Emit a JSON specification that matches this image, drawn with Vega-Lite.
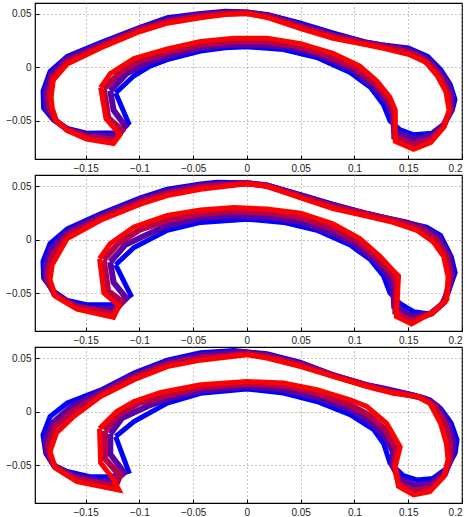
{
"$schema":"https://vega.github.io/schema/vega-lite/v6.json",
"autosize":{"type":"pad"},
"padding":{"left":5,"top":2,"right":5,"bottom":2},
"background":"white",
"bounds":"flush",
"spacing":16,
"datasets":{
"d":[
{"p":1,"c":"b","i":0,"x":-0.122,"y":-0.024},{"p":1,"c":"b","i":1,"x":-0.105,"y":-0.008},{"p":1,"c":"b","i":2,"x":-0.09,"y":0.001},{"p":1,"c":"b","i":3,"x":-0.074,"y":0.007},{"p":1,"c":"b","i":4,"x":-0.043,"y":0.015},{"p":1,"c":"b","i":5,"x":-0.02,"y":0.018},{"p":1,"c":"b","i":6,"x":0,"y":0.019},{"p":1,"c":"b","i":7,"x":0.034,"y":0.0165},{"p":1,"c":"b","i":8,"x":0.065,"y":0.009},{"p":1,"c":"b","i":9,"x":0.096,"y":-0.005},{"p":1,"c":"b","i":10,"x":0.115,"y":-0.019},{"p":1,"c":"b","i":11,"x":0.127,"y":-0.035},{"p":1,"c":"b","i":12,"x":0.133,"y":-0.05},{"p":1,"c":"b","i":13,"x":0.142,"y":-0.058},{"p":1,"c":"b","i":14,"x":0.155,"y":-0.063},{"p":1,"c":"b","i":15,"x":0.172,"y":-0.0615},{"p":1,"c":"b","i":16,"x":0.183,"y":-0.053},{"p":1,"c":"b","i":17,"x":0.191,"y":-0.04},{"p":1,"c":"b","i":18,"x":0.1935,"y":-0.03},{"p":1,"c":"b","i":19,"x":0.189,"y":-0.016},{"p":1,"c":"b","i":20,"x":0.18,"y":-0.002},{"p":1,"c":"b","i":21,"x":0.168,"y":0.01},{"p":1,"c":"b","i":22,"x":0.15,"y":0.018},{"p":1,"c":"b","i":23,"x":0.125,"y":0.021},{"p":1,"c":"b","i":24,"x":0.11,"y":0.0235},{"p":1,"c":"b","i":25,"x":0.08,"y":0.032},{"p":1,"c":"b","i":26,"x":0.05,"y":0.041},{"p":1,"c":"b","i":27,"x":0.02,"y":0.049},{"p":1,"c":"b","i":28,"x":0,"y":0.0515},{"p":1,"c":"b","i":29,"x":-0.02,"y":0.052},{"p":1,"c":"b","i":30,"x":-0.043,"y":0.05},{"p":1,"c":"b","i":31,"x":-0.074,"y":0.046},{"p":1,"c":"b","i":32,"x":-0.1,"y":0.037},{"p":1,"c":"b","i":33,"x":-0.136,"y":0.023},{"p":1,"c":"b","i":34,"x":-0.167,"y":0.01},{"p":1,"c":"b","i":35,"x":-0.183,"y":-0.004},{"p":1,"c":"b","i":36,"x":-0.1895,"y":-0.022},{"p":1,"c":"b","i":37,"x":-0.189,"y":-0.038},{"p":1,"c":"b","i":38,"x":-0.18,"y":-0.049},{"p":1,"c":"b","i":39,"x":-0.167,"y":-0.057},{"p":1,"c":"b","i":40,"x":-0.149,"y":-0.0615},{"p":1,"c":"b","i":41,"x":-0.12,"y":-0.061},{"p":1,"c":"b","i":42,"x":-0.11,"y":-0.052},{"p":1,"c":"b","i":43,"x":-0.122,"y":-0.024},
{"p":1,"c":"m1","i":0,"x":-0.127,"y":-0.022},{"p":1,"c":"m1","i":1,"x":-0.112,"y":-0.006},{"p":1,"c":"m1","i":2,"x":-0.09,"y":0.005},{"p":1,"c":"m1","i":3,"x":-0.074,"y":0.01},{"p":1,"c":"m1","i":4,"x":-0.043,"y":0.018},{"p":1,"c":"m1","i":5,"x":-0.015,"y":0.021},{"p":1,"c":"m1","i":6,"x":0.01,"y":0.021},{"p":1,"c":"m1","i":7,"x":0.04,"y":0.019},{"p":1,"c":"m1","i":8,"x":0.065,"y":0.012},{"p":1,"c":"m1","i":9,"x":0.098,"y":-0.002},{"p":1,"c":"m1","i":10,"x":0.117,"y":-0.017},{"p":1,"c":"m1","i":11,"x":0.13,"y":-0.032},{"p":1,"c":"m1","i":12,"x":0.136,"y":-0.047},{"p":1,"c":"m1","i":13,"x":0.137,"y":-0.06},{"p":1,"c":"m1","i":14,"x":0.155,"y":-0.067},{"p":1,"c":"m1","i":15,"x":0.172,"y":-0.064},{"p":1,"c":"m1","i":16,"x":0.183,"y":-0.054},{"p":1,"c":"m1","i":17,"x":0.19,"y":-0.04},{"p":1,"c":"m1","i":18,"x":0.191,"y":-0.028},{"p":1,"c":"m1","i":19,"x":0.186,"y":-0.014},{"p":1,"c":"m1","i":20,"x":0.178,"y":-0.003},{"p":1,"c":"m1","i":21,"x":0.167,"y":0.008},{"p":1,"c":"m1","i":22,"x":0.15,"y":0.016},{"p":1,"c":"m1","i":23,"x":0.127,"y":0.02},{"p":1,"c":"m1","i":24,"x":0.11,"y":0.023},{"p":1,"c":"m1","i":25,"x":0.08,"y":0.03},{"p":1,"c":"m1","i":26,"x":0.05,"y":0.039},{"p":1,"c":"m1","i":27,"x":0.02,"y":0.048},{"p":1,"c":"m1","i":28,"x":0,"y":0.051},{"p":1,"c":"m1","i":29,"x":-0.02,"y":0.051},{"p":1,"c":"m1","i":30,"x":-0.043,"y":0.049},{"p":1,"c":"m1","i":31,"x":-0.074,"y":0.044},{"p":1,"c":"m1","i":32,"x":-0.1,"y":0.036},{"p":1,"c":"m1","i":33,"x":-0.136,"y":0.021},{"p":1,"c":"m1","i":34,"x":-0.167,"y":0.008},{"p":1,"c":"m1","i":35,"x":-0.182,"y":-0.007},{"p":1,"c":"m1","i":36,"x":-0.187,"y":-0.024},{"p":1,"c":"m1","i":37,"x":-0.186,"y":-0.038},{"p":1,"c":"m1","i":38,"x":-0.179,"y":-0.049},{"p":1,"c":"m1","i":39,"x":-0.167,"y":-0.058},{"p":1,"c":"m1","i":40,"x":-0.149,"y":-0.063},{"p":1,"c":"m1","i":41,"x":-0.122,"y":-0.064},{"p":1,"c":"m1","i":42,"x":-0.113,"y":-0.055},{"p":1,"c":"m1","i":43,"x":-0.124,"y":-0.04},{"p":1,"c":"m1","i":44,"x":-0.127,"y":-0.022},
{"p":1,"c":"m2","i":0,"x":-0.133,"y":-0.02},{"p":1,"c":"m2","i":1,"x":-0.118,"y":-0.005},{"p":1,"c":"m2","i":2,"x":-0.1,"y":0.006},{"p":1,"c":"m2","i":3,"x":-0.074,"y":0.014},{"p":1,"c":"m2","i":4,"x":-0.043,"y":0.021},{"p":1,"c":"m2","i":5,"x":-0.013,"y":0.024},{"p":1,"c":"m2","i":6,"x":0.015,"y":0.024},{"p":1,"c":"m2","i":7,"x":0.045,"y":0.02},{"p":1,"c":"m2","i":8,"x":0.072,"y":0.012},{"p":1,"c":"m2","i":9,"x":0.101,"y":-0.001},{"p":1,"c":"m2","i":10,"x":0.119,"y":-0.015},{"p":1,"c":"m2","i":11,"x":0.132,"y":-0.03},{"p":1,"c":"m2","i":12,"x":0.137,"y":-0.043},{"p":1,"c":"m2","i":13,"x":0.137,"y":-0.065},{"p":1,"c":"m2","i":14,"x":0.155,"y":-0.072},{"p":1,"c":"m2","i":15,"x":0.171,"y":-0.067},{"p":1,"c":"m2","i":16,"x":0.183,"y":-0.055},{"p":1,"c":"m2","i":17,"x":0.189,"y":-0.04},{"p":1,"c":"m2","i":18,"x":0.188,"y":-0.026},{"p":1,"c":"m2","i":19,"x":0.181,"y":-0.011},{"p":1,"c":"m2","i":20,"x":0.172,"y":0.001},{"p":1,"c":"m2","i":21,"x":0.158,"y":0.011},{"p":1,"c":"m2","i":22,"x":0.14,"y":0.017},{"p":1,"c":"m2","i":23,"x":0.115,"y":0.021},{"p":1,"c":"m2","i":24,"x":0.08,"y":0.029},{"p":1,"c":"m2","i":25,"x":0.05,"y":0.0375},{"p":1,"c":"m2","i":26,"x":0.02,"y":0.047},{"p":1,"c":"m2","i":27,"x":0,"y":0.0505},{"p":1,"c":"m2","i":28,"x":-0.02,"y":0.05},{"p":1,"c":"m2","i":29,"x":-0.043,"y":0.0475},{"p":1,"c":"m2","i":30,"x":-0.074,"y":0.0425},{"p":1,"c":"m2","i":31,"x":-0.1,"y":0.0345},{"p":1,"c":"m2","i":32,"x":-0.136,"y":0.0195},{"p":1,"c":"m2","i":33,"x":-0.167,"y":0.0055},{"p":1,"c":"m2","i":34,"x":-0.181,"y":-0.0095},{"p":1,"c":"m2","i":35,"x":-0.1845,"y":-0.026},{"p":1,"c":"m2","i":36,"x":-0.1835,"y":-0.038},{"p":1,"c":"m2","i":37,"x":-0.178,"y":-0.0495},{"p":1,"c":"m2","i":38,"x":-0.167,"y":-0.058},{"p":1,"c":"m2","i":39,"x":-0.149,"y":-0.065},{"p":1,"c":"m2","i":40,"x":-0.123,"y":-0.0675},{"p":1,"c":"m2","i":41,"x":-0.116,"y":-0.059},{"p":1,"c":"m2","i":42,"x":-0.129,"y":-0.047},{"p":1,"c":"m2","i":43,"x":-0.133,"y":-0.02},
{"p":1,"c":"r","i":0,"x":-0.136,"y":-0.019},{"p":1,"c":"r","i":1,"x":-0.127,"y":-0.006},{"p":1,"c":"r","i":2,"x":-0.105,"y":0.008},{"p":1,"c":"r","i":3,"x":-0.074,"y":0.017},{"p":1,"c":"r","i":4,"x":-0.043,"y":0.024},{"p":1,"c":"r","i":5,"x":-0.012,"y":0.027},{"p":1,"c":"r","i":6,"x":0.019,"y":0.027},{"p":1,"c":"r","i":7,"x":0.05,"y":0.022},{"p":1,"c":"r","i":8,"x":0.08,"y":0.013},{"p":1,"c":"r","i":9,"x":0.105,"y":0.001},{"p":1,"c":"r","i":10,"x":0.121,"y":-0.013},{"p":1,"c":"r","i":11,"x":0.133,"y":-0.028},{"p":1,"c":"r","i":12,"x":0.138,"y":-0.04},{"p":1,"c":"r","i":13,"x":0.138,"y":-0.069},{"p":1,"c":"r","i":14,"x":0.155,"y":-0.0765},{"p":1,"c":"r","i":15,"x":0.171,"y":-0.07},{"p":1,"c":"r","i":16,"x":0.183,"y":-0.056},{"p":1,"c":"r","i":17,"x":0.188,"y":-0.04},{"p":1,"c":"r","i":18,"x":0.185,"y":-0.023},{"p":1,"c":"r","i":19,"x":0.177,"y":-0.008},{"p":1,"c":"r","i":20,"x":0.166,"y":0.005},{"p":1,"c":"r","i":21,"x":0.15,"y":0.012},{"p":1,"c":"r","i":22,"x":0.13,"y":0.017},{"p":1,"c":"r","i":23,"x":0.11,"y":0.021},{"p":1,"c":"r","i":24,"x":0.08,"y":0.027},{"p":1,"c":"r","i":25,"x":0.05,"y":0.036},{"p":1,"c":"r","i":26,"x":0.02,"y":0.046},{"p":1,"c":"r","i":27,"x":0,"y":0.05},{"p":1,"c":"r","i":28,"x":-0.02,"y":0.049},{"p":1,"c":"r","i":29,"x":-0.043,"y":0.046},{"p":1,"c":"r","i":30,"x":-0.074,"y":0.041},{"p":1,"c":"r","i":31,"x":-0.1,"y":0.033},{"p":1,"c":"r","i":32,"x":-0.136,"y":0.018},{"p":1,"c":"r","i":33,"x":-0.167,"y":0.003},{"p":1,"c":"r","i":34,"x":-0.18,"y":-0.012},{"p":1,"c":"r","i":35,"x":-0.182,"y":-0.028},{"p":1,"c":"r","i":36,"x":-0.181,"y":-0.038},{"p":1,"c":"r","i":37,"x":-0.177,"y":-0.05},{"p":1,"c":"r","i":38,"x":-0.167,"y":-0.059},{"p":1,"c":"r","i":39,"x":-0.149,"y":-0.067},{"p":1,"c":"r","i":40,"x":-0.124,"y":-0.071},{"p":1,"c":"r","i":41,"x":-0.118,"y":-0.063},{"p":1,"c":"r","i":42,"x":-0.131,"y":-0.048},{"p":1,"c":"r","i":43,"x":-0.136,"y":-0.019},
{"p":2,"c":"b","i":0,"x":-0.122,"y":-0.0236},{"p":2,"c":"b","i":1,"x":-0.105,"y":-0.0074},{"p":2,"c":"b","i":2,"x":-0.074,"y":0.0086},{"p":2,"c":"b","i":3,"x":-0.043,"y":0.016},{"p":2,"c":"b","i":4,"x":0,"y":0.019},{"p":2,"c":"b","i":5,"x":0.034,"y":0.016},{"p":2,"c":"b","i":6,"x":0.065,"y":0.0086},{"p":2,"c":"b","i":7,"x":0.096,"y":-0.005},{"p":2,"c":"b","i":8,"x":0.115,"y":-0.019},{"p":2,"c":"b","i":9,"x":0.127,"y":-0.034},{"p":2,"c":"b","i":10,"x":0.133,"y":-0.05},{"p":2,"c":"b","i":11,"x":0.1425,"y":-0.06},{"p":2,"c":"b","i":12,"x":0.155,"y":-0.0675},{"p":2,"c":"b","i":13,"x":0.17,"y":-0.0696},{"p":2,"c":"b","i":14,"x":0.18,"y":-0.062},{"p":2,"c":"b","i":15,"x":0.187,"y":-0.05},{"p":2,"c":"b","i":16,"x":0.1936,"y":-0.031},{"p":2,"c":"b","i":17,"x":0.19,"y":-0.016},{"p":2,"c":"b","i":18,"x":0.18,"y":0.004},{"p":2,"c":"b","i":19,"x":0.167,"y":0.0117},{"p":2,"c":"b","i":20,"x":0.152,"y":0.015},{"p":2,"c":"b","i":21,"x":0.127,"y":0.0209},{"p":2,"c":"b","i":22,"x":0.1115,"y":0.0245},{"p":2,"c":"b","i":23,"x":0.08,"y":0.033},{"p":2,"c":"b","i":24,"x":0.05,"y":0.042},{"p":2,"c":"b","i":25,"x":0.0186,"y":0.051},{"p":2,"c":"b","i":26,"x":0,"y":0.053},{"p":2,"c":"b","i":27,"x":-0.028,"y":0.0536},{"p":2,"c":"b","i":28,"x":-0.043,"y":0.052},{"p":2,"c":"b","i":29,"x":-0.074,"y":0.047},{"p":2,"c":"b","i":30,"x":-0.099,"y":0.039},{"p":2,"c":"b","i":31,"x":-0.136,"y":0.024},{"p":2,"c":"b","i":32,"x":-0.167,"y":0.01},{"p":2,"c":"b","i":33,"x":-0.183,"y":-0.0037},{"p":2,"c":"b","i":34,"x":-0.1896,"y":-0.0205},{"p":2,"c":"b","i":35,"x":-0.189,"y":-0.036},{"p":2,"c":"b","i":36,"x":-0.18,"y":-0.048},{"p":2,"c":"b","i":37,"x":-0.167,"y":-0.057},{"p":2,"c":"b","i":38,"x":-0.149,"y":-0.061},{"p":2,"c":"b","i":39,"x":-0.122,"y":-0.061},{"p":2,"c":"b","i":40,"x":-0.108,"y":-0.052},{"p":2,"c":"b","i":41,"x":-0.122,"y":-0.0236},
{"p":2,"c":"m1","i":0,"x":-0.127,"y":-0.021},{"p":2,"c":"m1","i":1,"x":-0.113,"y":-0.005},{"p":2,"c":"m1","i":2,"x":-0.09,"y":0.006},{"p":2,"c":"m1","i":3,"x":-0.074,"y":0.0132},{"p":2,"c":"m1","i":4,"x":-0.043,"y":0.02},{"p":2,"c":"m1","i":5,"x":-0.012,"y":0.0225},{"p":2,"c":"m1","i":6,"x":0.0186,"y":0.021},{"p":2,"c":"m1","i":7,"x":0.05,"y":0.0165},{"p":2,"c":"m1","i":8,"x":0.08,"y":0.006},{"p":2,"c":"m1","i":9,"x":0.1,"y":-0.004},{"p":2,"c":"m1","i":10,"x":0.118,"y":-0.018},{"p":2,"c":"m1","i":11,"x":0.13,"y":-0.032},{"p":2,"c":"m1","i":12,"x":0.136,"y":-0.044},{"p":2,"c":"m1","i":13,"x":0.137,"y":-0.063},{"p":2,"c":"m1","i":14,"x":0.154,"y":-0.072},{"p":2,"c":"m1","i":15,"x":0.171,"y":-0.069},{"p":2,"c":"m1","i":16,"x":0.182,"y":-0.06},{"p":2,"c":"m1","i":17,"x":0.1875,"y":-0.047},{"p":2,"c":"m1","i":18,"x":0.191,"y":-0.032},{"p":2,"c":"m1","i":19,"x":0.188,"y":-0.016},{"p":2,"c":"m1","i":20,"x":0.178,"y":0.002},{"p":2,"c":"m1","i":21,"x":0.164,"y":0.011},{"p":2,"c":"m1","i":22,"x":0.148,"y":0.016},{"p":2,"c":"m1","i":23,"x":0.127,"y":0.0205},{"p":2,"c":"m1","i":24,"x":0.1115,"y":0.024},{"p":2,"c":"m1","i":25,"x":0.08,"y":0.032},{"p":2,"c":"m1","i":26,"x":0.05,"y":0.041},{"p":2,"c":"m1","i":27,"x":0.0186,"y":0.0505},{"p":2,"c":"m1","i":28,"x":0,"y":0.0527},{"p":2,"c":"m1","i":29,"x":-0.028,"y":0.052},{"p":2,"c":"m1","i":30,"x":-0.043,"y":0.0505},{"p":2,"c":"m1","i":31,"x":-0.074,"y":0.045},{"p":2,"c":"m1","i":32,"x":-0.099,"y":0.037},{"p":2,"c":"m1","i":33,"x":-0.136,"y":0.022},{"p":2,"c":"m1","i":34,"x":-0.167,"y":0.007},{"p":2,"c":"m1","i":35,"x":-0.182,"y":-0.009},{"p":2,"c":"m1","i":36,"x":-0.187,"y":-0.025},{"p":2,"c":"m1","i":37,"x":-0.187,"y":-0.037},{"p":2,"c":"m1","i":38,"x":-0.179,"y":-0.05},{"p":2,"c":"m1","i":39,"x":-0.164,"y":-0.06},{"p":2,"c":"m1","i":40,"x":-0.149,"y":-0.064},{"p":2,"c":"m1","i":41,"x":-0.122,"y":-0.065},{"p":2,"c":"m1","i":42,"x":-0.112,"y":-0.055},{"p":2,"c":"m1","i":43,"x":-0.124,"y":-0.04},{"p":2,"c":"m1","i":44,"x":-0.127,"y":-0.021},
{"p":2,"c":"m2","i":0,"x":-0.133,"y":-0.019},{"p":2,"c":"m2","i":1,"x":-0.12,"y":-0.004},{"p":2,"c":"m2","i":2,"x":-0.1,"y":0.009},{"p":2,"c":"m2","i":3,"x":-0.074,"y":0.018},{"p":2,"c":"m2","i":4,"x":-0.043,"y":0.024},{"p":2,"c":"m2","i":5,"x":-0.012,"y":0.0265},{"p":2,"c":"m2","i":6,"x":0.0186,"y":0.025},{"p":2,"c":"m2","i":7,"x":0.05,"y":0.0205},{"p":2,"c":"m2","i":8,"x":0.08,"y":0.0105},{"p":2,"c":"m2","i":9,"x":0.103,"y":-0.002},{"p":2,"c":"m2","i":10,"x":0.121,"y":-0.017},{"p":2,"c":"m2","i":11,"x":0.133,"y":-0.03},{"p":2,"c":"m2","i":12,"x":0.139,"y":-0.039},{"p":2,"c":"m2","i":13,"x":0.138,"y":-0.068},{"p":2,"c":"m2","i":14,"x":0.153,"y":-0.076},{"p":2,"c":"m2","i":15,"x":0.172,"y":-0.069},{"p":2,"c":"m2","i":16,"x":0.184,"y":-0.058},{"p":2,"c":"m2","i":17,"x":0.187,"y":-0.044},{"p":2,"c":"m2","i":18,"x":0.189,"y":-0.033},{"p":2,"c":"m2","i":19,"x":0.186,"y":-0.016},{"p":2,"c":"m2","i":20,"x":0.176,"y":0},{"p":2,"c":"m2","i":21,"x":0.161,"y":0.01},{"p":2,"c":"m2","i":22,"x":0.14,"y":0.017},{"p":2,"c":"m2","i":23,"x":0.115,"y":0.023},{"p":2,"c":"m2","i":24,"x":0.08,"y":0.031},{"p":2,"c":"m2","i":25,"x":0.05,"y":0.04},{"p":2,"c":"m2","i":26,"x":0.0186,"y":0.05},{"p":2,"c":"m2","i":27,"x":0,"y":0.0525},{"p":2,"c":"m2","i":28,"x":-0.043,"y":0.049},{"p":2,"c":"m2","i":29,"x":-0.074,"y":0.043},{"p":2,"c":"m2","i":30,"x":-0.099,"y":0.035},{"p":2,"c":"m2","i":31,"x":-0.136,"y":0.02},{"p":2,"c":"m2","i":32,"x":-0.167,"y":0.004},{"p":2,"c":"m2","i":33,"x":-0.181,"y":-0.015},{"p":2,"c":"m2","i":34,"x":-0.185,"y":-0.03},{"p":2,"c":"m2","i":35,"x":-0.185,"y":-0.038},{"p":2,"c":"m2","i":36,"x":-0.179,"y":-0.0515},{"p":2,"c":"m2","i":37,"x":-0.16,"y":-0.0625},{"p":2,"c":"m2","i":38,"x":-0.124,"y":-0.069},{"p":2,"c":"m2","i":39,"x":-0.116,"y":-0.058},{"p":2,"c":"m2","i":40,"x":-0.129,"y":-0.048},{"p":2,"c":"m2","i":41,"x":-0.133,"y":-0.019},
{"p":2,"c":"r","i":0,"x":-0.137,"y":-0.018},{"p":2,"c":"r","i":1,"x":-0.127,"y":-0.0037},{"p":2,"c":"r","i":2,"x":-0.105,"y":0.0117},{"p":2,"c":"r","i":3,"x":-0.074,"y":0.0224},{"p":2,"c":"r","i":4,"x":-0.043,"y":0.0276},{"p":2,"c":"r","i":5,"x":-0.012,"y":0.03},{"p":2,"c":"r","i":6,"x":0.0186,"y":0.0285},{"p":2,"c":"r","i":7,"x":0.05,"y":0.0245},{"p":2,"c":"r","i":8,"x":0.08,"y":0.0147},{"p":2,"c":"r","i":9,"x":0.105,"y":0.001},{"p":2,"c":"r","i":10,"x":0.124,"y":-0.016},{"p":2,"c":"r","i":11,"x":0.135,"y":-0.028},{"p":2,"c":"r","i":12,"x":0.141,"y":-0.034},{"p":2,"c":"r","i":13,"x":0.139,"y":-0.072},{"p":2,"c":"r","i":14,"x":0.153,"y":-0.079},{"p":2,"c":"r","i":15,"x":0.173,"y":-0.068},{"p":2,"c":"r","i":16,"x":0.186,"y":-0.056},{"p":2,"c":"r","i":17,"x":0.187,"y":-0.035},{"p":2,"c":"r","i":18,"x":0.183,"y":-0.016},{"p":2,"c":"r","i":19,"x":0.173,"y":-0.002},{"p":2,"c":"r","i":20,"x":0.158,"y":0.0086},{"p":2,"c":"r","i":21,"x":0.136,"y":0.016},{"p":2,"c":"r","i":22,"x":0.111,"y":0.022},{"p":2,"c":"r","i":23,"x":0.08,"y":0.029},{"p":2,"c":"r","i":24,"x":0.05,"y":0.039},{"p":2,"c":"r","i":25,"x":0.0186,"y":0.05},{"p":2,"c":"r","i":26,"x":0,"y":0.052},{"p":2,"c":"r","i":27,"x":-0.043,"y":0.047},{"p":2,"c":"r","i":28,"x":-0.074,"y":0.041},{"p":2,"c":"r","i":29,"x":-0.099,"y":0.033},{"p":2,"c":"r","i":30,"x":-0.136,"y":0.018},{"p":2,"c":"r","i":31,"x":-0.167,"y":0.001},{"p":2,"c":"r","i":32,"x":-0.181,"y":-0.0236},{"p":2,"c":"r","i":33,"x":-0.183,"y":-0.0376},{"p":2,"c":"r","i":34,"x":-0.178,"y":-0.053},{"p":2,"c":"r","i":35,"x":-0.158,"y":-0.065},{"p":2,"c":"r","i":36,"x":-0.124,"y":-0.0727},{"p":2,"c":"r","i":37,"x":-0.119,"y":-0.062},{"p":2,"c":"r","i":38,"x":-0.133,"y":-0.05},{"p":2,"c":"r","i":39,"x":-0.137,"y":-0.018},
{"p":3,"c":"b","i":0,"x":-0.122,"y":-0.0234},{"p":3,"c":"b","i":1,"x":-0.105,"y":-0.0094},{"p":3,"c":"b","i":2,"x":-0.074,"y":0.0078},{"p":3,"c":"b","i":3,"x":-0.043,"y":0.017},{"p":3,"c":"b","i":4,"x":0,"y":0.021},{"p":3,"c":"b","i":5,"x":0.034,"y":0.0172},{"p":3,"c":"b","i":6,"x":0.065,"y":0.0094},{"p":3,"c":"b","i":7,"x":0.096,"y":-0.003},{"p":3,"c":"b","i":8,"x":0.118,"y":-0.017},{"p":3,"c":"b","i":9,"x":0.127,"y":-0.0297},{"p":3,"c":"b","i":10,"x":0.133,"y":-0.048},{"p":3,"c":"b","i":11,"x":0.1456,"y":-0.06},{"p":3,"c":"b","i":12,"x":0.158,"y":-0.064},{"p":3,"c":"b","i":13,"x":0.173,"y":-0.0625},{"p":3,"c":"b","i":14,"x":0.186,"y":-0.053},{"p":3,"c":"b","i":15,"x":0.1936,"y":-0.039},{"p":3,"c":"b","i":16,"x":0.1954,"y":-0.0266},{"p":3,"c":"b","i":17,"x":0.19,"y":-0.011},{"p":3,"c":"b","i":18,"x":0.18,"y":0.003},{"p":3,"c":"b","i":19,"x":0.17,"y":0.011},{"p":3,"c":"b","i":20,"x":0.155,"y":0.0156},{"p":3,"c":"b","i":21,"x":0.127,"y":0.022},{"p":3,"c":"b","i":22,"x":0.1115,"y":0.025},{"p":3,"c":"b","i":23,"x":0.08,"y":0.0344},{"p":3,"c":"b","i":24,"x":0.05,"y":0.046},{"p":3,"c":"b","i":25,"x":0.0186,"y":0.054},{"p":3,"c":"b","i":26,"x":-0.012,"y":0.057},{"p":3,"c":"b","i":27,"x":-0.043,"y":0.055},{"p":3,"c":"b","i":28,"x":-0.074,"y":0.048},{"p":3,"c":"b","i":29,"x":-0.105,"y":0.036},{"p":3,"c":"b","i":30,"x":-0.136,"y":0.02},{"p":3,"c":"b","i":31,"x":-0.167,"y":0.008},{"p":3,"c":"b","i":32,"x":-0.183,"y":-0.0047},{"p":3,"c":"b","i":33,"x":-0.1896,"y":-0.022},{"p":3,"c":"b","i":34,"x":-0.187,"y":-0.039},{"p":3,"c":"b","i":35,"x":-0.18,"y":-0.05},{"p":3,"c":"b","i":36,"x":-0.167,"y":-0.056},{"p":3,"c":"b","i":37,"x":-0.146,"y":-0.061},{"p":3,"c":"b","i":38,"x":-0.127,"y":-0.061},{"p":3,"c":"b","i":39,"x":-0.11,"y":-0.056},{"p":3,"c":"b","i":40,"x":-0.122,"y":-0.0234},
{"p":3,"c":"m1","i":0,"x":-0.127,"y":-0.021},{"p":3,"c":"m1","i":1,"x":-0.116,"y":-0.006},{"p":3,"c":"m1","i":2,"x":-0.09,"y":0.006},{"p":3,"c":"m1","i":3,"x":-0.074,"y":0.0118},{"p":3,"c":"m1","i":4,"x":-0.043,"y":0.0197},{"p":3,"c":"m1","i":5,"x":0,"y":0.0237},{"p":3,"c":"m1","i":6,"x":0.034,"y":0.0205},{"p":3,"c":"m1","i":7,"x":0.065,"y":0.0133},{"p":3,"c":"m1","i":8,"x":0.096,"y":0.002},{"p":3,"c":"m1","i":9,"x":0.115,"y":-0.01},{"p":3,"c":"m1","i":10,"x":0.128,"y":-0.023},{"p":3,"c":"m1","i":11,"x":0.136,"y":-0.038},{"p":3,"c":"m1","i":12,"x":0.135,"y":-0.05},{"p":3,"c":"m1","i":13,"x":0.142,"y":-0.063},{"p":3,"c":"m1","i":14,"x":0.156,"y":-0.069},{"p":3,"c":"m1","i":15,"x":0.172,"y":-0.067},{"p":3,"c":"m1","i":16,"x":0.185,"y":-0.056},{"p":3,"c":"m1","i":17,"x":0.191,"y":-0.041},{"p":3,"c":"m1","i":18,"x":0.192,"y":-0.028},{"p":3,"c":"m1","i":19,"x":0.187,"y":-0.011},{"p":3,"c":"m1","i":20,"x":0.177,"y":0.005},{"p":3,"c":"m1","i":21,"x":0.166,"y":0.012},{"p":3,"c":"m1","i":22,"x":0.15,"y":0.016},{"p":3,"c":"m1","i":23,"x":0.13,"y":0.02},{"p":3,"c":"m1","i":24,"x":0.1115,"y":0.0245},{"p":3,"c":"m1","i":25,"x":0.08,"y":0.034},{"p":3,"c":"m1","i":26,"x":0.05,"y":0.045},{"p":3,"c":"m1","i":27,"x":0.0186,"y":0.0527},{"p":3,"c":"m1","i":28,"x":-0.005,"y":0.0555},{"p":3,"c":"m1","i":29,"x":-0.043,"y":0.0527},{"p":3,"c":"m1","i":30,"x":-0.074,"y":0.046},{"p":3,"c":"m1","i":31,"x":-0.105,"y":0.034},{"p":3,"c":"m1","i":32,"x":-0.136,"y":0.018},{"p":3,"c":"m1","i":33,"x":-0.164,"y":0.004},{"p":3,"c":"m1","i":34,"x":-0.18,"y":-0.01},{"p":3,"c":"m1","i":35,"x":-0.187,"y":-0.026},{"p":3,"c":"m1","i":36,"x":-0.186,"y":-0.039},{"p":3,"c":"m1","i":37,"x":-0.179,"y":-0.051},{"p":3,"c":"m1","i":38,"x":-0.164,"y":-0.059},{"p":3,"c":"m1","i":39,"x":-0.14,"y":-0.065},{"p":3,"c":"m1","i":40,"x":-0.124,"y":-0.066},{"p":3,"c":"m1","i":41,"x":-0.114,"y":-0.057},{"p":3,"c":"m1","i":42,"x":-0.127,"y":-0.04},{"p":3,"c":"m1","i":43,"x":-0.127,"y":-0.021},
{"p":3,"c":"m2","i":0,"x":-0.132,"y":-0.018},{"p":3,"c":"m2","i":1,"x":-0.119,"y":-0.003},{"p":3,"c":"m2","i":2,"x":-0.1,"y":0.008},{"p":3,"c":"m2","i":3,"x":-0.074,"y":0.015},{"p":3,"c":"m2","i":4,"x":-0.043,"y":0.0225},{"p":3,"c":"m2","i":5,"x":0,"y":0.026},{"p":3,"c":"m2","i":6,"x":0.034,"y":0.024},{"p":3,"c":"m2","i":7,"x":0.065,"y":0.017},{"p":3,"c":"m2","i":8,"x":0.096,"y":0.006},{"p":3,"c":"m2","i":9,"x":0.113,"y":-0.003},{"p":3,"c":"m2","i":10,"x":0.129,"y":-0.017},{"p":3,"c":"m2","i":11,"x":0.139,"y":-0.035},{"p":3,"c":"m2","i":12,"x":0.137,"y":-0.051},{"p":3,"c":"m2","i":13,"x":0.141,"y":-0.067},{"p":3,"c":"m2","i":14,"x":0.155,"y":-0.074},{"p":3,"c":"m2","i":15,"x":0.171,"y":-0.071},{"p":3,"c":"m2","i":16,"x":0.184,"y":-0.059},{"p":3,"c":"m2","i":17,"x":0.189,"y":-0.043},{"p":3,"c":"m2","i":18,"x":0.189,"y":-0.029},{"p":3,"c":"m2","i":19,"x":0.184,"y":-0.011},{"p":3,"c":"m2","i":20,"x":0.174,"y":0.006},{"p":3,"c":"m2","i":21,"x":0.162,"y":0.013},{"p":3,"c":"m2","i":22,"x":0.143,"y":0.017},{"p":3,"c":"m2","i":23,"x":0.12,"y":0.022},{"p":3,"c":"m2","i":24,"x":0.08,"y":0.0335},{"p":3,"c":"m2","i":25,"x":0.05,"y":0.0435},{"p":3,"c":"m2","i":26,"x":0.0186,"y":0.0515},{"p":3,"c":"m2","i":27,"x":0,"y":0.054},{"p":3,"c":"m2","i":28,"x":-0.043,"y":0.05},{"p":3,"c":"m2","i":29,"x":-0.074,"y":0.044},{"p":3,"c":"m2","i":30,"x":-0.105,"y":0.032},{"p":3,"c":"m2","i":31,"x":-0.136,"y":0.016},{"p":3,"c":"m2","i":32,"x":-0.162,"y":0},{"p":3,"c":"m2","i":33,"x":-0.179,"y":-0.015},{"p":3,"c":"m2","i":34,"x":-0.185,"y":-0.032},{"p":3,"c":"m2","i":35,"x":-0.182,"y":-0.045},{"p":3,"c":"m2","i":36,"x":-0.178,"y":-0.052},{"p":3,"c":"m2","i":37,"x":-0.161,"y":-0.062},{"p":3,"c":"m2","i":38,"x":-0.122,"y":-0.07},{"p":3,"c":"m2","i":39,"x":-0.118,"y":-0.06},{"p":3,"c":"m2","i":40,"x":-0.132,"y":-0.044},{"p":3,"c":"m2","i":41,"x":-0.132,"y":-0.018},
{"p":3,"c":"r","i":0,"x":-0.137,"y":-0.016},{"p":3,"c":"r","i":1,"x":-0.121,"y":0},{"p":3,"c":"r","i":2,"x":-0.105,"y":0.0094},{"p":3,"c":"r","i":3,"x":-0.08,"y":0.0178},{"p":3,"c":"r","i":4,"x":-0.043,"y":0.025},{"p":3,"c":"r","i":5,"x":0,"y":0.028},{"p":3,"c":"r","i":6,"x":0.034,"y":0.0266},{"p":3,"c":"r","i":7,"x":0.065,"y":0.0203},{"p":3,"c":"r","i":8,"x":0.096,"y":0.011},{"p":3,"c":"r","i":9,"x":0.1115,"y":0.0047},{"p":3,"c":"r","i":10,"x":0.13,"y":-0.011},{"p":3,"c":"r","i":11,"x":0.1425,"y":-0.033},{"p":3,"c":"r","i":12,"x":0.138,"y":-0.0516},{"p":3,"c":"r","i":13,"x":0.141,"y":-0.07},{"p":3,"c":"r","i":14,"x":0.155,"y":-0.078},{"p":3,"c":"r","i":15,"x":0.17,"y":-0.075},{"p":3,"c":"r","i":16,"x":0.183,"y":-0.061},{"p":3,"c":"r","i":17,"x":0.187,"y":-0.045},{"p":3,"c":"r","i":18,"x":0.1855,"y":-0.03},{"p":3,"c":"r","i":19,"x":0.18,"y":-0.011},{"p":3,"c":"r","i":20,"x":0.17,"y":0.0078},{"p":3,"c":"r","i":21,"x":0.158,"y":0.014},{"p":3,"c":"r","i":22,"x":0.136,"y":0.017},{"p":3,"c":"r","i":23,"x":0.1115,"y":0.0234},{"p":3,"c":"r","i":24,"x":0.08,"y":0.0328},{"p":3,"c":"r","i":25,"x":0.05,"y":0.042},{"p":3,"c":"r","i":26,"x":0.0186,"y":0.05},{"p":3,"c":"r","i":27,"x":0,"y":0.053},{"p":3,"c":"r","i":28,"x":-0.043,"y":0.048},{"p":3,"c":"r","i":29,"x":-0.074,"y":0.042},{"p":3,"c":"r","i":30,"x":-0.105,"y":0.0297},{"p":3,"c":"r","i":31,"x":-0.136,"y":0.014},{"p":3,"c":"r","i":32,"x":-0.161,"y":-0.0047},{"p":3,"c":"r","i":33,"x":-0.177,"y":-0.02},{"p":3,"c":"r","i":34,"x":-0.183,"y":-0.0375},{"p":3,"c":"r","i":35,"x":-0.178,"y":-0.053},{"p":3,"c":"r","i":36,"x":-0.158,"y":-0.0656},{"p":3,"c":"r","i":37,"x":-0.119,"y":-0.0734},{"p":3,"c":"r","i":38,"x":-0.125,"y":-0.062},{"p":3,"c":"r","i":39,"x":-0.136,"y":-0.048},{"p":3,"c":"r","i":40,"x":-0.137,"y":-0.016}
]},
"vconcat":[
{"width":427,"height":156,"data":{"name":"d"},
 "encoding":{
  "x":{"field":"x","type":"quantitative","scale":{"domain":[-0.197,0.2],"nice":false,"zero":false},"axis":{"values":[-0.15,-0.1,-0.05,0,0.05,0.1,0.15,0.2],"format":".2~f","title":null}},
  "y":{"field":"y","type":"quantitative","scale":{"domain":[-0.0855,0.0598],"nice":false,"zero":false},"axis":{"values":[-0.05,0,0.05],"format":".2~f","title":null}},
  "order":{"field":"i","type":"quantitative"}},
 "layer":[
  {"transform":[{"filter":"datum.p==1 && datum.c=='b'"}],"mark":{"type":"line","stroke":"#0000ff","strokeWidth":5,"clip":true}},
  {"transform":[{"filter":"datum.p==1 && datum.c=='m1'"}],"mark":{"type":"line","stroke":"#5a00a5","strokeWidth":6,"clip":true}},
  {"transform":[{"filter":"datum.p==1 && datum.c=='m2'"}],"mark":{"type":"line","stroke":"#b4004b","strokeWidth":6,"clip":true}},
  {"transform":[{"filter":"datum.p==1 && datum.c=='r'"}],"mark":{"type":"line","stroke":"#ff0000","strokeWidth":5,"clip":true}}
 ]},
{"width":427,"height":156,"data":{"name":"d"},
 "encoding":{
  "x":{"field":"x","type":"quantitative","scale":{"domain":[-0.197,0.2],"nice":false,"zero":false},"axis":{"values":[-0.15,-0.1,-0.05,0,0.05,0.1,0.15,0.2],"format":".2~f","title":null}},
  "y":{"field":"y","type":"quantitative","scale":{"domain":[-0.0855,0.0603],"nice":false,"zero":false},"axis":{"values":[-0.05,0,0.05],"format":".2~f","title":null}},
  "order":{"field":"i","type":"quantitative"}},
 "layer":[
  {"transform":[{"filter":"datum.p==2 && datum.c=='b'"}],"mark":{"type":"line","stroke":"#0000ff","strokeWidth":5,"clip":true}},
  {"transform":[{"filter":"datum.p==2 && datum.c=='m1'"}],"mark":{"type":"line","stroke":"#5a00a5","strokeWidth":6,"clip":true}},
  {"transform":[{"filter":"datum.p==2 && datum.c=='m2'"}],"mark":{"type":"line","stroke":"#b4004b","strokeWidth":6,"clip":true}},
  {"transform":[{"filter":"datum.p==2 && datum.c=='r'"}],"mark":{"type":"line","stroke":"#ff0000","strokeWidth":5,"clip":true}}
 ]},
{"width":427,"height":156,"data":{"name":"d"},
 "encoding":{
  "x":{"field":"x","type":"quantitative","scale":{"domain":[-0.197,0.2],"nice":false,"zero":false},"axis":{"values":[-0.15,-0.1,-0.05,0,0.05,0.1,0.15,0.2],"format":".2~f","title":null}},
  "y":{"field":"y","type":"quantitative","scale":{"domain":[-0.0855,0.0603],"nice":false,"zero":false},"axis":{"values":[-0.05,0,0.05],"format":".2~f","title":null}},
  "order":{"field":"i","type":"quantitative"}},
 "layer":[
  {"transform":[{"filter":"datum.p==3 && datum.c=='b'"}],"mark":{"type":"line","stroke":"#0000ff","strokeWidth":5,"clip":true}},
  {"transform":[{"filter":"datum.p==3 && datum.c=='m1'"}],"mark":{"type":"line","stroke":"#5a00a5","strokeWidth":6,"clip":true}},
  {"transform":[{"filter":"datum.p==3 && datum.c=='m2'"}],"mark":{"type":"line","stroke":"#b4004b","strokeWidth":6,"clip":true}},
  {"transform":[{"filter":"datum.p==3 && datum.c=='r'"}],"mark":{"type":"line","stroke":"#ff0000","strokeWidth":5,"clip":true}}
 ]}
],
"config":{
 "view":{"stroke":"#000000","strokeWidth":1.2},
 "axis":{"grid":true,"gridDash":[1,3],"gridColor":"#888888","gridWidth":1,"domain":false,"ticks":true,"tickSize":-4,"tickColor":"#000000","labelPadding":8,"labelFont":"Liberation Sans","labelFontSize":10,"labelColor":"#222222"}
}
}
